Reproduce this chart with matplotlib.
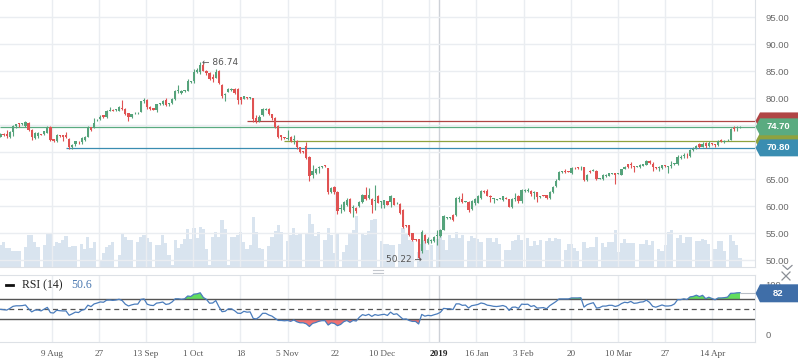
import numpy as np
import matplotlib
matplotlib.use("Agg")
import matplotlib.pyplot as plt
import matplotlib.transforms as mtransforms
from matplotlib.patches import Polygon
from matplotlib.lines import Line2D

plt.rcParams["font.family"] = ["Liberation Sans", "DejaVu Sans"]

# daily bars (6 per week, Sunday bars included)
opens = [
    72.9, 73.3, 73.4, 72.9, 73.8, 74.8, 75.3, 75.2, 74.9, 75.5,
    74.2, 72.6, 73.0, 73.3, 73.3, 73.6, 74.7, 72.4, 72.0, 73.1,
    73.1, 73.2, 72.4, 70.9, 71.5, 71.9, 71.8, 72.2, 72.9, 74.6,
    74.4, 75.9, 76.1, 76.8, 76.6, 77.7, 77.9, 77.8, 77.7, 78.2,
    78.0, 77.2, 76.6, 77.2, 77.2, 77.5, 79.5, 79.6, 78.4, 78.1,
    77.9, 78.9, 79.0, 79.6, 78.9, 79.1, 79.8, 81.3, 81.0, 81.3,
    81.4, 83.0, 83.1, 84.9, 84.9, 86.2, 85.0, 84.6, 84.0, 83.8,
    85.0, 82.5, 80.6, 81.2, 81.5, 81.8, 81.8, 80.2, 79.9, 80.1,
    80.0, 80.0, 76.3, 75.8, 76.8, 77.9, 78.0, 77.0, 76.4, 74.9,
    73.1, 72.8, 72.5, 72.9, 72.3, 72.1, 70.9, 70.2, 71.1, 69.2,
    65.8, 66.1, 67.0, 67.2, 67.5, 67.0, 62.7, 63.6, 62.7, 59.4,
    59.3, 60.3, 61.3, 59.7, 59.7, 60.0, 60.7, 62.0, 61.5, 61.4,
    61.0, 61.8, 60.7, 60.3, 60.9, 60.7, 61.5, 60.5, 60.4, 59.3,
    56.4, 56.5, 55.0, 53.8, 53.9, 51.6, 54.7, 53.2, 53.5, 53.5,
    54.4, 54.4, 55.6, 57.8, 57.8, 58.4, 58.4, 61.4, 61.3, 60.8,
    60.8, 59.4, 60.6, 60.6, 61.5, 62.9, 62.9, 61.8, 61.3, 61.2,
    61.4, 61.2, 61.6, 61.3, 59.8, 61.3, 61.8, 60.9, 62.8, 62.9,
    62.8, 62.4, 62.6, 61.7, 62.0, 62.0, 61.6, 62.6, 63.7, 64.9,
    66.3, 66.6, 66.5, 66.2, 67.1, 67.2, 67.0, 67.2, 64.9, 66.5,
    66.6, 66.6, 65.1, 65.1, 65.5, 65.6, 66.0, 66.1, 66.0, 65.8,
    66.9, 67.8, 67.8, 67.4, 67.3, 67.2, 67.5, 67.7, 68.4, 67.8,
    67.2, 67.1, 67.0, 67.5, 67.2, 67.4, 67.8, 67.8, 69.0, 69.3,
    69.5, 69.3, 70.4, 70.7, 71.5, 71.0, 71.7, 71.1, 71.6, 71.4,
    71.3, 72.2, 71.8, 72.2, 72.3, 74.4, 74.4, 74.6,
]
highs = [
    73.6, 73.5, 74.1, 74.0, 75.0, 75.3, 75.4, 75.4, 75.8, 75.6,
    74.3, 73.7, 73.8, 73.4, 74.0, 74.9, 74.9, 72.5, 73.3, 73.2,
    73.2, 73.8, 72.6, 71.6, 72.1, 72.0, 72.8, 73.0, 74.9, 74.7,
    76.3, 76.1, 76.8, 76.9, 77.9, 78.3, 78.0, 78.0, 78.6, 79.7,
    78.1, 77.3, 77.1, 77.4, 77.4, 79.5, 80.0, 79.8, 78.5, 78.2,
    79.0, 79.2, 79.6, 80.0, 79.1, 80.0, 81.5, 82.5, 81.6, 81.6,
    83.5, 83.2, 85.4, 85.6, 86.74, 86.6, 85.2, 84.8, 84.4, 85.5,
    85.3, 82.6, 81.0, 81.9, 81.9, 81.9, 81.9, 80.3, 80.5, 80.2,
    80.2, 80.1, 76.9, 76.8, 78.1, 78.1, 78.1, 77.1, 76.5, 75.0,
    73.2, 72.9, 74.1, 73.0, 73.1, 72.2, 71.0, 70.3, 71.9, 69.3,
    67.6, 67.0, 67.5, 67.5, 67.6, 67.1, 63.6, 63.7, 62.8, 60.4,
    61.0, 61.5, 61.6, 60.2, 59.8, 61.0, 62.2, 63.6, 63.3, 61.5,
    63.9, 62.0, 61.0, 61.2, 61.0, 62.0, 61.6, 60.7, 60.5, 59.4,
    56.5, 56.6, 55.1, 53.9, 54.0, 55.6, 54.8, 54.3, 53.9, 54.4,
    55.6, 55.8, 58.3, 58.0, 58.0, 58.5, 61.7, 61.9, 62.5, 61.0,
    61.0, 61.1, 61.5, 62.0, 63.0, 63.0, 63.2, 62.1, 61.6, 61.4,
    61.6, 61.9, 61.7, 61.4, 61.5, 62.4, 62.0, 63.1, 63.2, 63.3,
    63.0, 62.8, 62.7, 61.9, 62.1, 62.1, 62.8, 63.7, 65.0, 66.6,
    66.5, 66.8, 66.6, 67.2, 67.2, 67.3, 67.4, 67.3, 66.0, 66.7,
    66.8, 66.7, 65.3, 66.0, 65.9, 66.2, 66.2, 66.2, 66.2, 66.9,
    67.4, 67.9, 68.2, 67.5, 67.5, 67.8, 67.9, 68.6, 68.6, 68.1,
    67.3, 67.5, 67.7, 67.6, 67.5, 68.3, 68.0, 69.4, 69.5, 69.8,
    69.8, 70.6, 71.0, 71.4, 71.7, 71.9, 71.9, 72.1, 71.7, 71.6,
    72.2, 72.5, 72.2, 72.4, 74.4, 74.8, 74.8, 74.9,
]
lows = [
    72.8, 73.0, 72.6, 72.6, 73.0, 74.5, 74.6, 75.1, 74.7, 74.0,
    72.2, 72.4, 72.7, 73.1, 73.2, 73.5, 72.0, 71.8, 71.9, 72.9,
    72.0, 72.6, 70.5, 70.6, 71.2, 71.6, 71.6, 72.0, 72.8, 73.9,
    74.4, 75.8, 76.0, 76.3, 76.4, 77.6, 77.6, 77.7, 77.6, 77.8,
    76.9, 75.7, 76.3, 77.1, 77.0, 77.4, 79.2, 78.0, 77.8, 77.8,
    77.5, 78.8, 78.8, 78.6, 78.6, 79.0, 79.7, 81.0, 80.8, 81.2,
    81.3, 82.9, 82.9, 84.6, 84.5, 85.0, 84.3, 83.4, 83.0, 83.7,
    82.7, 80.0, 79.4, 81.1, 81.4, 80.8, 78.9, 79.0, 79.8, 79.9,
    79.9, 75.6, 75.4, 75.6, 76.7, 77.8, 76.9, 75.9, 74.5, 72.7,
    72.3, 72.5, 72.2, 71.8, 71.5, 70.6, 69.8, 69.9, 68.8, 64.7,
    65.2, 65.9, 66.2, 67.1, 67.3, 62.3, 62.5, 62.3, 58.5, 58.8,
    59.1, 60.0, 58.8, 58.0, 58.7, 59.9, 60.5, 61.2, 61.3, 58.7,
    59.3, 60.5, 59.6, 59.7, 60.2, 59.9, 60.2, 60.4, 58.5, 55.9,
    56.2, 54.5, 53.5, 53.6, 50.22, 51.3, 53.2, 52.9, 53.2, 53.3,
    52.8, 54.2, 55.5, 57.7, 57.7, 57.2, 58.2, 60.8, 60.5, 60.7,
    59.0, 59.2, 60.3, 60.5, 61.3, 62.5, 61.8, 60.7, 60.5, 61.1,
    61.3, 61.0, 61.3, 59.8, 59.7, 60.9, 60.5, 60.5, 62.6, 62.7,
    61.9, 61.3, 60.8, 61.5, 61.8, 61.3, 61.4, 62.4, 63.6, 64.8,
    66.2, 66.2, 66.3, 65.9, 66.9, 66.8, 66.7, 64.6, 64.6, 66.1,
    66.5, 64.8, 65.0, 64.9, 65.4, 65.5, 65.9, 64.1, 65.9, 65.7,
    66.8, 67.0, 67.0, 66.3, 67.2, 67.1, 67.4, 67.6, 67.8, 66.6,
    66.9, 66.6, 66.9, 67.3, 66.1, 67.1, 67.7, 67.7, 68.8, 69.0,
    68.9, 69.2, 70.3, 70.5, 70.8, 70.9, 70.8, 71.0, 71.4, 71.0,
    71.1, 71.8, 71.7, 72.1, 72.2, 74.0, 74.0, 74.5,
]
closes = [
    73.4, 73.2, 73.0, 73.8, 74.9, 75.2, 75.2, 75.3, 75.6, 74.2,
    72.8, 73.5, 73.6, 73.2, 73.9, 74.6, 72.3, 72.1, 73.2, 73.0,
    72.9, 72.9, 70.9, 71.4, 72.0, 71.8, 72.6, 72.9, 74.7, 74.2,
    75.5, 76.0, 76.6, 76.5, 77.7, 77.8, 77.7, 77.9, 78.3, 78.0,
    77.1, 76.6, 77.0, 77.3, 77.3, 79.4, 79.7, 78.3, 78.0, 77.9,
    78.9, 79.1, 79.4, 78.8, 79.0, 79.8, 81.4, 81.4, 81.3, 81.5,
    83.2, 83.1, 84.9, 85.2, 86.2, 85.1, 84.6, 83.5, 83.6, 84.9,
    82.8, 80.5, 80.7, 81.8, 81.8, 81.0, 79.7, 79.6, 80.4, 80.0,
    80.1, 76.2, 75.8, 76.6, 78.0, 78.0, 77.0, 76.3, 74.7, 72.9,
    72.9, 72.6, 72.7, 72.0, 72.4, 70.9, 70.0, 70.0, 69.0, 65.5,
    66.5, 66.8, 67.2, 67.4, 67.4, 62.6, 63.4, 62.6, 59.1, 59.6,
    60.7, 61.2, 59.0, 59.8, 59.1, 60.8, 62.1, 61.4, 62.0, 60.3,
    61.2, 60.6, 60.9, 61.1, 60.3, 61.8, 60.3, 60.6, 58.7, 56.2,
    56.3, 54.7, 53.7, 53.7, 50.4, 55.3, 53.5, 54.0, 53.6, 54.2,
    54.7, 55.6, 58.1, 57.9, 57.9, 57.4, 61.5, 61.5, 60.7, 60.9,
    59.3, 60.9, 61.3, 61.8, 62.9, 62.6, 61.9, 61.7, 61.4, 61.3,
    61.5, 61.8, 61.4, 59.9, 61.3, 61.4, 60.9, 63.0, 62.9, 63.0,
    62.2, 62.6, 61.7, 61.8, 61.9, 61.5, 62.7, 63.6, 64.7, 66.4,
    66.4, 66.4, 66.4, 67.0, 67.0, 67.0, 67.1, 64.8, 65.8, 66.3,
    66.7, 65.0, 65.2, 65.8, 65.8, 66.1, 66.1, 65.8, 66.1, 66.8,
    67.3, 67.2, 67.7, 67.3, 67.4, 67.7, 67.8, 68.4, 68.0, 67.2,
    67.0, 67.3, 67.6, 67.4, 67.4, 67.5, 67.9, 69.2, 69.2, 69.5,
    69.4, 70.4, 70.6, 71.2, 71.0, 71.6, 71.1, 71.7, 71.5, 71.3,
    72.0, 72.0, 72.1, 72.3, 74.3, 74.3, 74.6, 74.7,
]
volumes = [
    22, 25, 19, 19, 16, 16, 16, 0, 20, 32,
    32, 25, 20, 0, 22, 33, 33, 21, 25, 24,
    27, 31, 20, 21, 21, 0, 23, 18, 30, 19,
    25, 0, 7, 14, 20, 22, 25, 0, 12, 33,
    30, 27, 27, 0, 25, 30, 32, 29, 25, 0,
    22, 22, 32, 24, 12, 2, 27, 19, 23, 28,
    38, 28, 39, 29, 40, 38, 18, 2, 30, 35,
    30, 47, 38, 2, 30, 30, 32, 35, 25, 18,
    22, 50, 35, 19, 18, 0, 21, 30, 36, 42,
    35, 0, 26, 32, 39, 32, 33, 0, 33, 53,
    43, 31, 35, 0, 27, 39, 32, 14, 33, 0,
    15, 22, 33, 37, 51, 0, 33, 32, 36, 47,
    48, 0, 26, 23, 23, 22, 22, 0, 23, 39,
    34, 27, 26, 0, 15, 23, 27, 17, 22, 0,
    28, 33, 27, 17, 32, 29, 35, 29, 32, 0,
    26, 31, 29, 28, 25, 0, 29, 29, 25, 29,
    23, 0, 17, 17, 26, 27, 32, 27, 0, 29,
    21, 26, 22, 27, 0, 26, 29, 26, 29, 28,
    0, 17, 23, 23, 19, 16, 0, 25, 19, 20,
    20, 30, 0, 24, 20, 25, 25, 37, 15, 24,
    28, 24, 24, 24, 0, 23, 23, 27, 22, 26,
    0, 18, 16, 22, 35, 37, 0, 29, 32, 24,
    30, 30, 0, 26, 26, 28, 27, 23, 0, 18,
    26, 26, 16, 0, 32, 26, 22, 9,
]

# horizontal levels drawn on the price panel
levels = [75.80, 74.70, 72.00, 70.80]
level_from = [79, 0, 91, 21]
level_colors = ["#b04545", "#5aab80", "#8fa23e", "#3a8db1"]
level_text = ["", "74.70", "", "70.80"]

hi_label = "86.74"
lo_label = "50.22"
rsi_header = "50.6"
rsi_tag = 82

x_labels = ["9 Aug", "27", "13 Sep", "1 Oct", "18", "5 Nov", "22", "10 Dec",
            "", "16 Jan", "3 Feb", "20", "10 Mar", "27", "14 Apr"]
year_label = "2019"

GREEN = "#55a37b"
RED = "#e05252"
GRID = "#eaedf1"
BORDER = "#dde1e6"

W, H = 798, 363
fig = plt.figure(figsize=(W / 100, H / 100), dpi=100)


def fx(px):
    return px / W


def fy(py):
    return 1 - py / H


ax = fig.add_axes([0, fy(266.5), fx(755), 266.5 / H])
axr = fig.add_axes([0, fy(342), fx(755), 67 / H])
axv = ax.twinx()
ax.set_zorder(2)
axv.set_zorder(1)
ax.patch.set_visible(False)

o = np.array(opens)
h = np.array(highs)
l = np.array(lows)
c = np.array(closes)
n = len(c)
idx = np.arange(n)
col = np.where(c >= o, GREEN, RED)

xmin, xmax = -0.16, 241.8
tick_pos = [16.4 + 15.125 * k for k in range(len(x_labels))]
year_pos = 140.5

# volume
axv.bar(idx, volumes, width=1.0, color="#d9e4ef", linewidth=0)
axv.set_ylim(0, 266.5)
axv.set_yticks([])
for s in axv.spines.values():
    s.set_visible(False)

# candles
ax.vlines(idx, l, h, colors=col, lw=0.8, zorder=4)
body_lo = np.minimum(o, c)
body_h = np.maximum(np.abs(c - o), 0.15)
ax.bar(idx, body_h, bottom=body_lo, width=0.72, color=col, linewidth=0, zorder=5)

for lv, st, lc in zip(levels, level_from, level_colors):
    ax.hlines(lv, st, xmax, color=lc, lw=0.9, zorder=3)

i_hi = int(np.argmax(h))
i_lo = int(np.argmin(l))
ax.annotate("\u2190 " + hi_label, xy=(i_hi, h[i_hi]), xytext=(1.5, -0.5),
            textcoords="offset points", ha="left", va="center",
            fontsize=6.5, color="#555555", zorder=6,
            family=["DejaVu Sans"])
ax.annotate(lo_label + " \u2192", xy=(i_lo, l[i_lo]), xytext=(2.5, -0.5),
            textcoords="offset points", ha="right", va="center",
            fontsize=6.5, color="#555555", zorder=6,
            family=["DejaVu Sans"])

ax.set_xlim(xmin, xmax)
ax.set_ylim(48.82, 98.2)
ax.yaxis.tick_right()
yt = np.arange(50, 96, 5)
ax.set_yticks(yt)
# 70 and 75 sit under the level tags, so their labels are not shown
ax.set_yticklabels(["" if v in (70, 75) else f"{v:.2f}" for v in yt])
ax.tick_params(axis="y", length=0, pad=7.5, labelsize=6.8, labelcolor="#6a6a6a")
ax.tick_params(axis="x", length=0, labelbottom=False)
ax.set_xticks([])
ax.grid(axis="y", color=GRID, lw=1, zorder=0)
for t in tick_pos:
    ax.axvline(t, color=GRID, lw=1, zorder=0)
    axr.axvline(t, color=GRID, lw=1, zorder=0)
ax.axvline(year_pos, color="#cdd1d7", lw=1, zorder=0)
axr.axvline(year_pos, color="#cdd1d7", lw=1, zorder=0)
for side in ["top", "left"]:
    ax.spines[side].set_visible(False)
for side in ["right", "bottom"]:
    ax.spines[side].set_color(BORDER)

# RSI (Wilder smoothing, seeded neutral from the first 14 moves)
d = np.diff(c, prepend=c[0])
gain = np.clip(d, 0, None)
loss = np.clip(-d, 0, None)
ag = al = np.mean(np.abs(d[1:15]))
rsi = []
for g_, l_ in zip(gain, loss):
    ag = (ag * 13 + g_) / 14
    al = (al * 13 + l_) / 14
    rsi.append(100 * ag / (ag + al))
rsi = np.array(rsi)

axr.fill_between(idx, 70, rsi, where=rsi > 70, interpolate=True,
                 color="#62dd5e", linewidth=0, zorder=2)
axr.fill_between(idx, 30, rsi, where=rsi < 30, interpolate=True,
                 color="#f07272", linewidth=0, zorder=2)
axr.axhline(70, color="#555555", lw=1, zorder=3)
axr.axhline(30, color="#555555", lw=1, zorder=3)
axr.axhline(50, color="#555555", lw=0.9, ls=(0, (4, 3)), zorder=3)
axr.plot(idx, rsi, color="#4a7cbc", lw=0.9, zorder=4)
axr.hlines(rsi_tag, n - 1, xmax, color="#b8bec6", lw=0.8, zorder=3)

axr.set_xlim(xmin, xmax)
axr.set_ylim(-15.4, 118.6)
axr.yaxis.tick_right()
axr.set_yticks([0, 100])
axr.set_yticklabels(["0", "100"])
axr.tick_params(axis="y", length=0, pad=7.5, labelsize=6.8, labelcolor="#6a6a6a")
axr.set_xticks(tick_pos + [year_pos])
axr.set_xticklabels(x_labels + [year_label], family="Liberation Serif",
                    fontsize=6.6, color="#555555")
axr.get_xticklabels()[-1].set_fontweight("bold")
axr.get_xticklabels()[-1].set_color("#222222")
axr.tick_params(axis="x", length=0, pad=5.5)
axr.spines["left"].set_visible(False)
for side in ["top", "right", "bottom"]:
    axr.spines[side].set_color(BORDER)


def tag(axis, y, half, color, text):
    tr = mtransforms.blended_transform_factory(fig.transFigure, axis.transData)
    x0, x1, x2 = fx(755.5), fx(760), 1.0
    poly = Polygon([(x0, y), (x1, y + half), (x2, y + half), (x2, y - half),
                    (x1, y - half)], closed=True, transform=tr,
                   facecolor=color, edgecolor="none", zorder=10)
    fig.add_artist(poly)
    if text:
        fig.text(fx(778), y, text, transform=tr, ha="center", va="center",
                 fontsize=6.8, fontweight="bold", color="white", zorder=11)


for lv, lc, lt in zip(levels, level_colors, level_text):
    if not lt:
        tag(ax, lv, 1.57, lc, lt)
for lv, lc, lt in zip(levels, level_colors, level_text):
    if lt:
        tag(ax, lv, 1.57, lc, lt)
tag(axr, rsi_tag, 18, "#3f6ea8", str(rsi_tag))

# header of the RSI pane
fig.add_artist(Line2D([fx(6), fx(13)], [fy(285), fy(285)], color="#111111", lw=2))
fig.text(fx(22), fy(285.5), "RSI (14)", family="Liberation Serif", fontsize=8.5,
         color="#222222", va="center")
fig.text(fx(71), fy(285.5), rsi_header, family="Liberation Serif", fontsize=8.5,
         color="#4a78b0", va="center")

# small pane controls
for yy in (270.3, 272.5):
    fig.add_artist(Line2D([fx(373), fx(383)], [fy(yy), fy(yy)], color="#c4c8ce", lw=0.8))
fig.add_artist(Line2D([fx(783), fx(787.5), fx(792)], [fy(265.5), fy(269.5), fy(265.5)],
                      color="#8a8f96", lw=0.9))
fig.add_artist(Line2D([fx(782), fx(790)], [fy(272), fy(280)], color="#8a8f96", lw=0.9, zorder=12))
fig.add_artist(Line2D([fx(782), fx(790)], [fy(280), fy(272)], color="#8a8f96", lw=0.9, zorder=12))

fig.savefig("out.png", dpi=100)
